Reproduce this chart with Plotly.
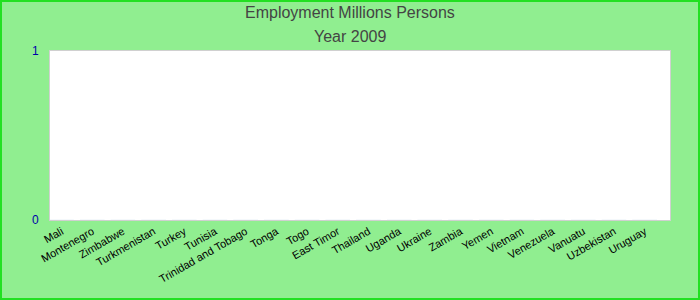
import plotly.graph_objects as go

countries = ["Mali", "Montenegro", "Zimbabwe", "Turkmenistan", "Turkey", "Tunisia",
             "Trinidad and Tobago", "Tonga", "Togo", "East Timor", "Thailand", "Uganda",
             "Ukraine", "Zambia", "Yemen", "Vietnam", "Venezuela", "Vanuatu",
             "Uzbekistan", "Uruguay"]
employment = [0] * len(countries)
y_ticks = [0, 1]
title_lines = ["Employment Millions Persons", "Year 2009"]

W, H = 700, 300
ml, mr, mt, mb = 50, 30, 51, 80
pw, ph = W - ml - mr, H - mt - mb

fig = go.Figure(go.Bar(x=countries, y=employment, marker_color="#4472c4"))

def py(pix):
    return 1 + (mt - pix) / ph

fig.update_layout(
    width=W, height=H,
    margin=dict(l=ml, r=mr, t=mt, b=mb),
    paper_bgcolor="#90EE90",
    plot_bgcolor="white",
    font=dict(family="Liberation Sans, Arial, sans-serif"),
    showlegend=False,
    annotations=[
        dict(text=title_lines[0], xref="paper", yref="paper", x=(W / 2 - ml) / pw, y=py(13),
             xanchor="center", yanchor="middle", showarrow=False,
             font=dict(size=16, color="#444444")),
        dict(text=title_lines[1], xref="paper", yref="paper", x=(W / 2 - ml) / pw, y=py(36),
             xanchor="center", yanchor="middle", showarrow=False,
             font=dict(size=16, color="#444444")),
    ],
    shapes=[dict(type="rect", xref="paper", yref="paper",
                 x0=-(ml - 1) / pw, x1=1 + (mr - 1) / pw,
                 y0=-(mb - 1) / ph, y1=1 + (mt - 1) / ph,
                 line=dict(color="#22e022", width=2), layer="below")],
)
fig.update_xaxes(tickangle=-30, tickfont=dict(size=11, color="black"),
                 range=[-0.375, 19.825],
                 showline=True, linecolor="#d0d0d0", mirror=True, showgrid=False,
                 ticks="")
fig.update_yaxes(range=[0, 1], tickvals=y_ticks, tickfont=dict(size=12, color="#0000aa"),
                 showline=True, linecolor="#d0d0d0", mirror=True, showgrid=False,
                 zeroline=False, ticks="", ticklabelstandoff=8)

fig.write_html("out.html")
